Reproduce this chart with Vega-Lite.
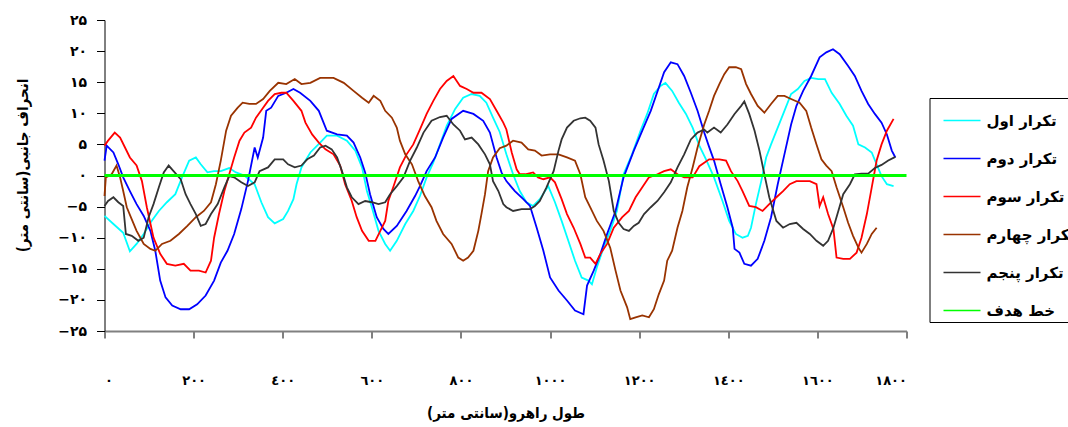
{
  "$schema": "https://vega.github.io/schema/vega-lite/v6.json",
  "width": 802,
  "height": 311,
  "autosize": {"type": "none"},
  "padding": {"left": 104.5, "top": 20, "right": 161.5, "bottom": 96},
  "config": {
    "view": {"stroke": null},
    "font": "DejaVu Sans",
    "legend": {
      "orient": "none",
      "legendX": 825,
      "legendY": 78,
      "title": null,
      "symbolType": "stroke",
      "symbolSize": 1369,
      "symbolStrokeWidth": 1.5,
      "labelFontSize": 15,
      "labelFontWeight": "bold",
      "labelColor": "#000",
      "labelLimit": 300,
      "strokeColor": "#000",
      "fillColor": "#fff",
      "padding": 3,
      "rowPadding": 10,
      "symbolOffset": 10,
      "labelOffset": 5
    }
  },
  "encoding": {
    "x": {
      "field": "x", "type": "quantitative",
      "scale": {"domain": [0, 1800], "nice": false, "zero": false},
      "axis": {
        "values": [0, 200, 400, 600, 800, 1000, 1200, 1400, 1600, 1800],
        "format": "d",
        "labelExpr": "replace(replace(replace(replace(replace(replace(replace(replace(replace(replace(datum.label,regexp('0','g'),'۰'),regexp('1','g'),'۱'),regexp('2','g'),'۲'),regexp('3','g'),'۳'),regexp('4','g'),'٤'),regexp('5','g'),'۵'),regexp('6','g'),'٦'),regexp('7','g'),'۷'),regexp('8','g'),'۸'),regexp('9','g'),'۹')",
        "grid": false,
        "domainColor": "#808080",
        "domainWidth": 2,
        "tickColor": "#000",
        "tickSize": 7,
        "labelPadding": 36,
        "labelFontSize": 13,
        "labelFontWeight": "bold",
        "labelColor": "#000",
        "title": "طول راهرو(سانتی متر)",
        "titleFont": "DejaVu Sans Condensed",
        "titleFontSize": 15,
        "titleFontWeight": "bold",
        "titleColor": "#000",
        "titleX": 401,
        "titleY": 81,
        "titleBaseline": "middle"
      }
    },
    "y": {
      "field": "y", "type": "quantitative",
      "scale": {"domain": [-25, 25], "nice": false},
      "axis": {
        "values": [-25, -20, -15, -10, -5, 0, 5, 10, 15, 20, 25],
        "format": "d",
        "labelExpr": "replace(replace(replace(replace(replace(replace(replace(replace(replace(replace(datum.label,regexp('0','g'),'۰'),regexp('1','g'),'۱'),regexp('2','g'),'۲'),regexp('3','g'),'۳'),regexp('4','g'),'٤'),regexp('5','g'),'۵'),regexp('6','g'),'٦'),regexp('7','g'),'۷'),regexp('8','g'),'۸'),regexp('9','g'),'۹')",
        "grid": false,
        "domainColor": "#000",
        "domainWidth": 1,
        "tickColor": "#000",
        "tickSize": 8,
        "labelPadding": 10,
        "labelFontSize": 14,
        "labelFontWeight": "bold",
        "labelColor": "#000",
        "title": "انحراف جانبی(سانتی متر)",
        "titleFont": "DejaVu Sans Condensed",
        "titleFontSize": 15,
        "titleFontWeight": "bold",
        "titleColor": "#000",
        "titleX": -82,
        "titleY": 145,
        "titleBaseline": "middle"
      }
    }
  },
  "layer": [
    {
      "data": {"values": [
        {"x":0,"y":-6.5},{"x":20,"y":-7.8},{"x":42,"y":-9.2},{"x":57,"y":-12.2},{"x":72,"y":-11},{"x":88,"y":-9.4},{"x":103,"y":-7.6},{"x":122,"y":-5.7},{"x":140,"y":-4.3},{"x":159,"y":-3},{"x":174,"y":-0.3},{"x":190,"y":2.4},{"x":205,"y":2.9},{"x":216,"y":1.8},{"x":231,"y":0.5},{"x":246,"y":0.7},{"x":261,"y":0.7},{"x":280,"y":1.2},{"x":295,"y":0.5},{"x":314,"y":0},{"x":337,"y":-1.4},{"x":352,"y":-4.3},{"x":367,"y":-6.7},{"x":382,"y":-7.7},{"x":401,"y":-7},{"x":412,"y":-5.7},{"x":424,"y":-3.8},{"x":431,"y":-1.4},{"x":442,"y":1.3},{"x":462,"y":3.7},{"x":484,"y":5.3},{"x":499,"y":6.4},{"x":522,"y":6.4},{"x":544,"y":5.6},{"x":563,"y":4},{"x":578,"y":1.3},{"x":589,"y":-2.5},{"x":600,"y":-5.1},{"x":615,"y":-8.9},{"x":630,"y":-11},{"x":641,"y":-12.1},{"x":656,"y":-10.5},{"x":675,"y":-7.8},{"x":693,"y":-5.7},{"x":708,"y":-3.3},{"x":723,"y":-0.3},{"x":738,"y":2.1},{"x":753,"y":5},{"x":768,"y":8},{"x":787,"y":10.7},{"x":805,"y":12.5},{"x":824,"y":13.1},{"x":842,"y":12.8},{"x":857,"y":11.7},{"x":872,"y":9.3},{"x":887,"y":7},{"x":902,"y":3.4},{"x":917,"y":0.2},{"x":932,"y":-2.5},{"x":947,"y":-4.3},{"x":962,"y":-4.9},{"x":977,"y":-3.8},{"x":996,"y":-1.7},{"x":1011,"y":-4.3},{"x":1026,"y":-7.3},{"x":1041,"y":-10.5},{"x":1056,"y":-13.7},{"x":1071,"y":-16.4},{"x":1086,"y":-16.9},{"x":1094,"y":-17.5},{"x":1105,"y":-14.8},{"x":1120,"y":-11.6},{"x":1135,"y":-8.9},{"x":1150,"y":-5.7},{"x":1165,"y":0.2},{"x":1184,"y":3.4},{"x":1203,"y":7.2},{"x":1218,"y":9.9},{"x":1233,"y":13.1},{"x":1248,"y":14.4},{"x":1259,"y":14.9},{"x":1274,"y":13.6},{"x":1289,"y":11.7},{"x":1305,"y":9.9},{"x":1320,"y":7.7},{"x":1335,"y":4.8},{"x":1350,"y":2.6},{"x":1368,"y":-0.3},{"x":1387,"y":-4.1},{"x":1402,"y":-7.3},{"x":1417,"y":-9.4},{"x":1432,"y":-10},{"x":1444,"y":-9.7},{"x":1451,"y":-8.4},{"x":1462,"y":-4.6},{"x":1474,"y":-0.9},{"x":1485,"y":2.9},{"x":1496,"y":5},{"x":1511,"y":7.7},{"x":1526,"y":10.4},{"x":1541,"y":13.1},{"x":1556,"y":13.9},{"x":1571,"y":15.2},{"x":1586,"y":15.7},{"x":1602,"y":15.5},{"x":1617,"y":15.5},{"x":1632,"y":13.3},{"x":1650,"y":11.5},{"x":1665,"y":9.6},{"x":1680,"y":8},{"x":1692,"y":5},{"x":1707,"y":4.5},{"x":1722,"y":3.7},{"x":1733,"y":1.8},{"x":1744,"y":-0.1},{"x":1756,"y":-1.4},{"x":1771,"y":-1.7}
      ]},
      "mark": {"type": "line", "strokeWidth": 1.8},
      "encoding": {"color": {"datum": "تکرار اول", "type": "nominal", "scale": {"domain": ["تکرار اول","تکرار دوم","تکرار سوم","تکرار چهارم","تکرار پنجم","خط هدف"], "range": ["#00FFFF","#0000FF","#FF0000","#993300","#333333","#00FF00"]}}}
    },
    {
      "data": {"values": [
        {"x":0,"y":2.4},{"x":5,"y":4.8},{"x":20,"y":3.7},{"x":31,"y":1.8},{"x":42,"y":-0.3},{"x":57,"y":-2.5},{"x":72,"y":-4.6},{"x":88,"y":-6.5},{"x":103,"y":-8.9},{"x":114,"y":-12.1},{"x":125,"y":-16.9},{"x":137,"y":-19.6},{"x":152,"y":-20.9},{"x":171,"y":-21.5},{"x":190,"y":-21.5},{"x":208,"y":-20.7},{"x":227,"y":-19.3},{"x":246,"y":-16.9},{"x":261,"y":-14},{"x":276,"y":-12.1},{"x":291,"y":-9.4},{"x":307,"y":-5.4},{"x":322,"y":-0.9},{"x":337,"y":4.5},{"x":344,"y":2.9},{"x":356,"y":6.1},{"x":363,"y":10.4},{"x":374,"y":10.9},{"x":390,"y":12.8},{"x":408,"y":13.3},{"x":424,"y":13.9},{"x":439,"y":13.3},{"x":462,"y":12},{"x":481,"y":10.4},{"x":499,"y":7.2},{"x":522,"y":6.6},{"x":544,"y":6.4},{"x":559,"y":5.3},{"x":574,"y":2.9},{"x":585,"y":0.5},{"x":596,"y":-3},{"x":611,"y":-6.7},{"x":626,"y":-8.6},{"x":637,"y":-9.4},{"x":656,"y":-8.1},{"x":678,"y":-5.7},{"x":697,"y":-3.3},{"x":708,"y":-1.7},{"x":723,"y":0.7},{"x":742,"y":2.9},{"x":760,"y":6.1},{"x":779,"y":9.1},{"x":805,"y":10.4},{"x":828,"y":9.9},{"x":850,"y":8.8},{"x":865,"y":6.9},{"x":880,"y":2.9},{"x":891,"y":0.5},{"x":902,"y":-0.9},{"x":921,"y":-2.5},{"x":940,"y":-3.8},{"x":955,"y":-4.9},{"x":970,"y":-8.4},{"x":985,"y":-12.1},{"x":1000,"y":-16.4},{"x":1019,"y":-18.5},{"x":1038,"y":-20.1},{"x":1056,"y":-21.7},{"x":1075,"y":-22.3},{"x":1083,"y":-17.7},{"x":1098,"y":-15.3},{"x":1113,"y":-12.6},{"x":1128,"y":-9.4},{"x":1147,"y":-5.7},{"x":1165,"y":-0.3},{"x":1188,"y":4},{"x":1207,"y":7.2},{"x":1226,"y":10.4},{"x":1244,"y":14.1},{"x":1256,"y":16.6},{"x":1271,"y":18.2},{"x":1286,"y":17.9},{"x":1301,"y":16},{"x":1316,"y":13.3},{"x":1331,"y":10.4},{"x":1346,"y":6.9},{"x":1356,"y":4.8},{"x":1368,"y":2.4},{"x":1383,"y":-1.4},{"x":1398,"y":-5.1},{"x":1410,"y":-8.4},{"x":1414,"y":-11.8},{"x":1425,"y":-12.4},{"x":1436,"y":-14.2},{"x":1451,"y":-14.5},{"x":1466,"y":-13.4},{"x":1481,"y":-10.5},{"x":1496,"y":-6.7},{"x":1511,"y":-1.4},{"x":1526,"y":3.4},{"x":1541,"y":8.2},{"x":1553,"y":11.2},{"x":1568,"y":13.6},{"x":1586,"y":16},{"x":1605,"y":19},{"x":1620,"y":19.8},{"x":1635,"y":20.3},{"x":1650,"y":19.5},{"x":1669,"y":17.6},{"x":1684,"y":16},{"x":1699,"y":13.6},{"x":1714,"y":11.5},{"x":1729,"y":9.9},{"x":1744,"y":8.5},{"x":1756,"y":6.6},{"x":1767,"y":4},{"x":1775,"y":2.9}
      ]},
      "mark": {"type": "line", "strokeWidth": 1.8},
      "encoding": {"color": {"datum": "تکرار دوم", "type": "nominal", "scale": {"domain": ["تکرار اول","تکرار دوم","تکرار سوم","تکرار چهارم","تکرار پنجم","خط هدف"], "range": ["#00FFFF","#0000FF","#FF0000","#993300","#333333","#00FF00"]}}}
    },
    {
      "data": {"values": [
        {"x":0,"y":4.8},{"x":8,"y":5.6},{"x":23,"y":6.9},{"x":35,"y":6.1},{"x":46,"y":4.5},{"x":57,"y":2.9},{"x":72,"y":1.6},{"x":84,"y":-0.9},{"x":95,"y":-5.1},{"x":110,"y":-10},{"x":125,"y":-12.6},{"x":140,"y":-14.2},{"x":159,"y":-14.5},{"x":178,"y":-14.2},{"x":193,"y":-15.3},{"x":212,"y":-15.3},{"x":227,"y":-15.6},{"x":239,"y":-13.7},{"x":246,"y":-10},{"x":257,"y":-6.2},{"x":269,"y":-2.5},{"x":280,"y":0.2},{"x":291,"y":2.9},{"x":303,"y":5.6},{"x":314,"y":6.9},{"x":329,"y":7.7},{"x":340,"y":9.3},{"x":356,"y":10.9},{"x":367,"y":12},{"x":382,"y":13.1},{"x":397,"y":13.3},{"x":408,"y":13.3},{"x":424,"y":12},{"x":442,"y":10.4},{"x":451,"y":8.5},{"x":466,"y":6.6},{"x":481,"y":5.3},{"x":496,"y":4.2},{"x":514,"y":3.4},{"x":529,"y":1.6},{"x":540,"y":-1.4},{"x":555,"y":-4.1},{"x":566,"y":-6.7},{"x":578,"y":-8.9},{"x":593,"y":-10.5},{"x":608,"y":-10.5},{"x":619,"y":-8.9},{"x":630,"y":-7.3},{"x":637,"y":-4.1},{"x":648,"y":-1.9},{"x":663,"y":1.3},{"x":678,"y":3.4},{"x":693,"y":5},{"x":708,"y":7.4},{"x":723,"y":9.9},{"x":738,"y":12},{"x":753,"y":13.9},{"x":768,"y":15.2},{"x":783,"y":16},{"x":798,"y":14.4},{"x":813,"y":13.9},{"x":828,"y":13.3},{"x":846,"y":13.3},{"x":865,"y":12.3},{"x":880,"y":10.4},{"x":895,"y":8.5},{"x":902,"y":7.4},{"x":914,"y":3.7},{"x":925,"y":1},{"x":932,"y":0.2},{"x":944,"y":0.2},{"x":962,"y":0.5},{"x":973,"y":-0.3},{"x":985,"y":-0.6},{"x":1000,"y":-0.3},{"x":1011,"y":-1.1},{"x":1026,"y":-3.8},{"x":1038,"y":-6.2},{"x":1053,"y":-8.4},{"x":1068,"y":-11},{"x":1079,"y":-13.2},{"x":1090,"y":-13.2},{"x":1102,"y":-14.2},{"x":1113,"y":-12.6},{"x":1128,"y":-11},{"x":1143,"y":-8.4},{"x":1162,"y":-6.7},{"x":1177,"y":-5.7},{"x":1192,"y":-3.5},{"x":1207,"y":-1.9},{"x":1222,"y":-0.3},{"x":1241,"y":0.2},{"x":1256,"y":0.7},{"x":1271,"y":1},{"x":1286,"y":0.2},{"x":1301,"y":-0.3},{"x":1320,"y":-0.3},{"x":1335,"y":1.5},{"x":1357,"y":2.6},{"x":1380,"y":2.6},{"x":1395,"y":2.4},{"x":1406,"y":0.7},{"x":1421,"y":-0.9},{"x":1432,"y":-2.5},{"x":1447,"y":-4.9},{"x":1462,"y":-5.1},{"x":1477,"y":-5.7},{"x":1492,"y":-4.6},{"x":1508,"y":-3.5},{"x":1523,"y":-2.5},{"x":1538,"y":-1.4},{"x":1553,"y":-0.9},{"x":1568,"y":-0.9},{"x":1583,"y":-0.9},{"x":1598,"y":-1.4},{"x":1605,"y":-4.9},{"x":1613,"y":-3.5},{"x":1624,"y":-6.2},{"x":1636,"y":-8.6},{"x":1643,"y":-13.2},{"x":1658,"y":-13.4},{"x":1673,"y":-13.4},{"x":1688,"y":-12.4},{"x":1699,"y":-10},{"x":1711,"y":-6.2},{"x":1722,"y":-1.9},{"x":1733,"y":2.4},{"x":1744,"y":5},{"x":1756,"y":7.2},{"x":1771,"y":9.1}
      ]},
      "mark": {"type": "line", "strokeWidth": 1.8},
      "encoding": {"color": {"datum": "تکرار سوم", "type": "nominal", "scale": {"domain": ["تکرار اول","تکرار دوم","تکرار سوم","تکرار چهارم","تکرار پنجم","خط هدف"], "range": ["#00FFFF","#0000FF","#FF0000","#993300","#333333","#00FF00"]}}}
    },
    {
      "data": {"values": [
        {"x":0,"y":-3.3},{"x":3,"y":-0.3},{"x":16,"y":0.2},{"x":27,"y":1.6},{"x":35,"y":-0.3},{"x":42,"y":-2.5},{"x":50,"y":-5.1},{"x":61,"y":-7},{"x":72,"y":-8.9},{"x":88,"y":-11},{"x":103,"y":-11.8},{"x":114,"y":-12.1},{"x":129,"y":-11},{"x":148,"y":-10.5},{"x":167,"y":-9.4},{"x":186,"y":-8.1},{"x":205,"y":-6.7},{"x":223,"y":-5.7},{"x":239,"y":-4.3},{"x":250,"y":-1.4},{"x":261,"y":2.4},{"x":273,"y":7.2},{"x":284,"y":9.6},{"x":299,"y":10.9},{"x":310,"y":11.7},{"x":325,"y":11.5},{"x":340,"y":11.5},{"x":356,"y":12.3},{"x":371,"y":13.6},{"x":390,"y":14.9},{"x":408,"y":14.7},{"x":427,"y":15.5},{"x":442,"y":14.7},{"x":462,"y":14.9},{"x":484,"y":15.7},{"x":514,"y":15.7},{"x":537,"y":14.9},{"x":559,"y":13.6},{"x":578,"y":12.5},{"x":593,"y":11.7},{"x":604,"y":12.8},{"x":619,"y":12},{"x":630,"y":10.4},{"x":645,"y":9.3},{"x":656,"y":7.7},{"x":663,"y":5.6},{"x":675,"y":3.4},{"x":690,"y":1.8},{"x":704,"y":-0.9},{"x":719,"y":-3.3},{"x":734,"y":-5.1},{"x":745,"y":-7.3},{"x":760,"y":-9.4},{"x":779,"y":-11},{"x":794,"y":-13.2},{"x":805,"y":-13.7},{"x":816,"y":-13.2},{"x":828,"y":-12.1},{"x":839,"y":-8.9},{"x":846,"y":-6.2},{"x":854,"y":-3},{"x":861,"y":0.7},{"x":872,"y":2.9},{"x":887,"y":4.4},{"x":902,"y":4.8},{"x":917,"y":5.6},{"x":936,"y":5.3},{"x":951,"y":4.2},{"x":966,"y":4},{"x":981,"y":3.2},{"x":1000,"y":3.4},{"x":1019,"y":3.4},{"x":1038,"y":2.9},{"x":1056,"y":2.4},{"x":1068,"y":0.2},{"x":1079,"y":-3.5},{"x":1090,"y":-5.1},{"x":1105,"y":-7.3},{"x":1120,"y":-8.9},{"x":1135,"y":-11.6},{"x":1147,"y":-15.3},{"x":1158,"y":-18.5},{"x":1173,"y":-21.2},{"x":1180,"y":-23.1},{"x":1192,"y":-22.8},{"x":1207,"y":-22.5},{"x":1222,"y":-22.8},{"x":1233,"y":-21.5},{"x":1244,"y":-19.1},{"x":1256,"y":-16.9},{"x":1263,"y":-13.7},{"x":1274,"y":-12.1},{"x":1286,"y":-8.4},{"x":1297,"y":-5.7},{"x":1308,"y":-1.9},{"x":1320,"y":1.3},{"x":1331,"y":4.5},{"x":1346,"y":8.2},{"x":1357,"y":10.4},{"x":1368,"y":12.8},{"x":1380,"y":14.7},{"x":1391,"y":16.3},{"x":1402,"y":17.4},{"x":1417,"y":17.4},{"x":1429,"y":17.1},{"x":1440,"y":14.7},{"x":1451,"y":13.1},{"x":1466,"y":11.2},{"x":1481,"y":10.1},{"x":1496,"y":11.5},{"x":1511,"y":12.8},{"x":1526,"y":12.8},{"x":1541,"y":12.3},{"x":1560,"y":11.7},{"x":1575,"y":10.4},{"x":1586,"y":7.7},{"x":1598,"y":5},{"x":1609,"y":2.6},{"x":1620,"y":1.6},{"x":1632,"y":0.7},{"x":1643,"y":-1.9},{"x":1658,"y":-5.1},{"x":1669,"y":-7.6},{"x":1680,"y":-9.7},{"x":1692,"y":-11.6},{"x":1699,"y":-12.4},{"x":1711,"y":-11},{"x":1722,"y":-9.4},{"x":1733,"y":-8.4}
      ]},
      "mark": {"type": "line", "strokeWidth": 1.8},
      "encoding": {"color": {"datum": "تکرار چهارم", "type": "nominal", "scale": {"domain": ["تکرار اول","تکرار دوم","تکرار سوم","تکرار چهارم","تکرار پنجم","خط هدف"], "range": ["#00FFFF","#0000FF","#FF0000","#993300","#333333","#00FF00"]}}}
    },
    {
      "data": {"values": [
        {"x":0,"y":-4.9},{"x":8,"y":-4.1},{"x":20,"y":-3.5},{"x":31,"y":-4.3},{"x":42,"y":-4.9},{"x":48,"y":-9.4},{"x":61,"y":-9.7},{"x":76,"y":-10.5},{"x":88,"y":-10},{"x":99,"y":-6.7},{"x":110,"y":-4.6},{"x":122,"y":-1.9},{"x":133,"y":0.5},{"x":144,"y":1.6},{"x":155,"y":0.7},{"x":171,"y":-0.6},{"x":182,"y":-3},{"x":193,"y":-4.6},{"x":205,"y":-6.2},{"x":216,"y":-8.1},{"x":227,"y":-7.8},{"x":239,"y":-6.2},{"x":254,"y":-4.6},{"x":269,"y":-1.9},{"x":280,"y":-0.1},{"x":291,"y":-0.3},{"x":307,"y":-1.1},{"x":322,"y":-1.7},{"x":337,"y":-1.1},{"x":348,"y":0.7},{"x":367,"y":1.3},{"x":382,"y":2.6},{"x":401,"y":2.6},{"x":412,"y":1.8},{"x":427,"y":1.3},{"x":442,"y":1.6},{"x":455,"y":2.6},{"x":470,"y":3.2},{"x":484,"y":4.5},{"x":496,"y":4.8},{"x":510,"y":4.2},{"x":522,"y":2.9},{"x":533,"y":0.7},{"x":544,"y":-1.9},{"x":555,"y":-3.5},{"x":570,"y":-4.6},{"x":585,"y":-4.1},{"x":600,"y":-4.3},{"x":615,"y":-4.6},{"x":630,"y":-4.3},{"x":641,"y":-3},{"x":656,"y":-1.7},{"x":671,"y":-0.3},{"x":686,"y":2.4},{"x":701,"y":4.5},{"x":716,"y":6.9},{"x":734,"y":8.8},{"x":753,"y":9.4},{"x":768,"y":9.6},{"x":783,"y":8.2},{"x":798,"y":7.2},{"x":809,"y":5.8},{"x":824,"y":6.1},{"x":839,"y":5},{"x":854,"y":3.4},{"x":865,"y":1.8},{"x":872,"y":-0.9},{"x":884,"y":-2.5},{"x":895,"y":-4.6},{"x":902,"y":-5.1},{"x":917,"y":-5.7},{"x":936,"y":-5.4},{"x":955,"y":-5.4},{"x":966,"y":-4.9},{"x":977,"y":-4.1},{"x":992,"y":-1.9},{"x":1008,"y":0.7},{"x":1019,"y":4},{"x":1026,"y":5.8},{"x":1038,"y":7.7},{"x":1053,"y":8.8},{"x":1068,"y":9.2},{"x":1079,"y":9.3},{"x":1090,"y":8.8},{"x":1102,"y":7.7},{"x":1109,"y":5},{"x":1120,"y":2.4},{"x":1132,"y":-0.9},{"x":1143,"y":-5.7},{"x":1154,"y":-7.6},{"x":1165,"y":-8.6},{"x":1177,"y":-8.9},{"x":1188,"y":-8.1},{"x":1199,"y":-7.6},{"x":1211,"y":-6.2},{"x":1226,"y":-5.1},{"x":1241,"y":-4.1},{"x":1256,"y":-2.7},{"x":1271,"y":-1.1},{"x":1286,"y":1.3},{"x":1301,"y":3.4},{"x":1316,"y":5.8},{"x":1331,"y":6.9},{"x":1346,"y":7.4},{"x":1353,"y":6.9},{"x":1368,"y":7.7},{"x":1383,"y":6.9},{"x":1398,"y":8.2},{"x":1414,"y":9.9},{"x":1429,"y":11.2},{"x":1436,"y":11.9},{"x":1447,"y":9.9},{"x":1459,"y":7.2},{"x":1470,"y":4},{"x":1481,"y":0.2},{"x":1492,"y":-3.5},{"x":1508,"y":-7.3},{"x":1523,"y":-8.4},{"x":1538,"y":-7.8},{"x":1553,"y":-7.6},{"x":1568,"y":-8.6},{"x":1583,"y":-9.4},{"x":1598,"y":-10.5},{"x":1613,"y":-11.3},{"x":1624,"y":-10.5},{"x":1636,"y":-8.4},{"x":1647,"y":-5.7},{"x":1658,"y":-3},{"x":1673,"y":-1.4},{"x":1684,"y":0.2},{"x":1699,"y":0.3},{"x":1714,"y":0.3},{"x":1729,"y":1.2},{"x":1744,"y":1.7},{"x":1759,"y":2.4},{"x":1775,"y":3}
      ]},
      "mark": {"type": "line", "strokeWidth": 1.8},
      "encoding": {"color": {"datum": "تکرار پنجم", "type": "nominal", "scale": {"domain": ["تکرار اول","تکرار دوم","تکرار سوم","تکرار چهارم","تکرار پنجم","خط هدف"], "range": ["#00FFFF","#0000FF","#FF0000","#993300","#333333","#00FF00"]}}}
    },
    {
      "data": {"values": [{"x":0,"y":0},{"x":1800,"y":0}]},
      "mark": {"type": "line", "strokeWidth": 3},
      "encoding": {"color": {"datum": "خط هدف", "type": "nominal", "scale": {"domain": ["تکرار اول","تکرار دوم","تکرار سوم","تکرار چهارم","تکرار پنجم","خط هدف"], "range": ["#00FFFF","#0000FF","#FF0000","#993300","#333333","#00FF00"]}}}
    }
  ]
}
